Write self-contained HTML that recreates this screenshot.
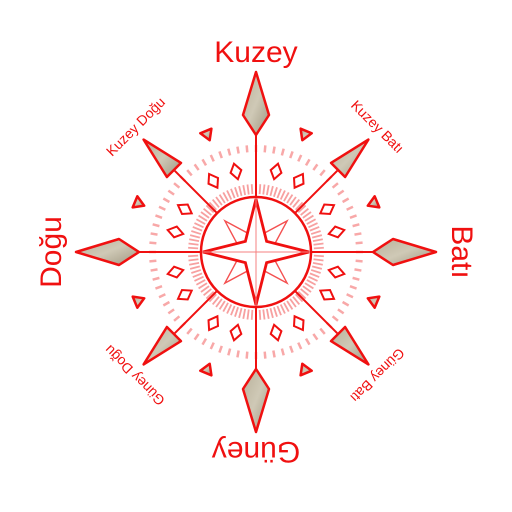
<!DOCTYPE html>
<html><head><meta charset="utf-8"><style>
html,body{margin:0;padding:0;background:#fff;width:512px;height:512px;overflow:hidden}
text{font-family:"Liberation Sans",sans-serif;fill:#f01010}
</style></head><body>
<svg id="c" width="512" height="512" viewBox="0 0 512 512">
<defs>
<linearGradient id="g" x1="0" y1="0" x2="1" y2="1"><stop offset="0" stop-color="#b8b09a"/><stop offset="0.5" stop-color="#cfc9b6"/><stop offset="1" stop-color="#9e9680"/></linearGradient>
</defs>
<g id="art"></g>
<text x="256" y="62" font-size="30" text-anchor="middle">Kuzey</text>
<text transform="translate(452,252) rotate(90)" font-size="30" text-anchor="middle">Batı</text>
<text transform="translate(61,252) rotate(-90)" font-size="30" text-anchor="middle">Doğu</text>
<text transform="translate(256,442) rotate(180)" font-size="30" text-anchor="middle">Güney</text>
<text transform="translate(139,130) rotate(-45)" font-size="14" text-anchor="middle">Kuzey Doğu</text>
<text transform="translate(374,130) rotate(45)" font-size="14" text-anchor="middle">Kuzey Batı</text>
<text transform="translate(374,372) rotate(135)" font-size="14" text-anchor="middle">Güney Batı</text>
<text transform="translate(138,372) rotate(-135)" font-size="14" text-anchor="middle">Güney Doğu</text>
</svg>
<script>
const cx=256, cy=252;
const cardinalAngles=[0,90,180,270];
const diagonalAngles=[45,135,225,315];
const triAngles=[22.5,67.5,112.5,157.5,202.5,247.5,292.5,337.5];
const diamondOffsets=[14,31];
const g=document.getElementById('art');
const NS='http://www.w3.org/2000/svg';
function P(r,a){const t=a*Math.PI/180;return [cx+r*Math.sin(t),cy-r*Math.cos(t)];}
function pt(r,a,w){const t=a*Math.PI/180;return [cx+r*Math.sin(t)+w*Math.cos(t),cy-r*Math.cos(t)+w*Math.sin(t)];}
function mk(tag,attrs,name){const e=document.createElementNS(NS,tag);for(const k in attrs)e.setAttribute(k,attrs[k]);
 
 
 g.appendChild(e);return e;}
function poly(pts){return pts.map(p=>p[0].toFixed(1)+','+p[1].toFixed(1)).join(' ');}
for(let i=0;i<72;i++){const a=i*5;const p1=P(100,a),p2=P(107,a);
 mk('line',{x1:p1[0],y1:p1[1],x2:p2[0],y2:p2[1],stroke:'#f8a8a8','stroke-width':2.5},'outer-tick');}
for(let i=0;i<100;i++){const a=i*3.6;const p1=P(58,a),p2=P(68,a);
 mk('line',{x1:p1[0],y1:p1[1],x2:p2[0],y2:p2[1],stroke:'#f7a0a0','stroke-width':1.8},'inner-tick');}
[...cardinalAngles,...diagonalAngles].forEach(a=>{const ri=cardinalAngles.includes(a)?118:115;const p1=P(56,a),p2=P(ri,a);
 mk('line',{x1:p1[0],y1:p1[1],x2:p2[0],y2:p2[1],stroke:'#f01010','stroke-width':2},'direction-line');});
cardinalAngles.forEach(a=>{mk('polygon',{points:poly([pt(180,a,0),pt(137,a,13),pt(117,a,0),pt(137,a,-13)]),fill:'url(#g)',stroke:'#f01010','stroke-width':2.5,'stroke-linejoin':'round'},'cardinal-arrow');});
diagonalAngles.forEach(a=>{mk('polygon',{points:poly([pt(159,a,0),pt(116,a,10),pt(116,a,-10)]),fill:'url(#g)',stroke:'#f01010','stroke-width':2.5,'stroke-linejoin':'round'},'diagonal-arrow');});
triAngles.forEach(a=>{mk('polygon',{points:poly([pt(121,a,0),pt(131,a,6),pt(131,a,-6)]),fill:'url(#g)',stroke:'#f01010','stroke-width':2.5,'stroke-linejoin':'round'},'small-triangle');});
for(let s=0;s<8;s++)diamondOffsets.forEach(o=>{const a=s*45+o;
 mk('polygon',{points:poly([pt(91,a,0),pt(83,a,5.5),pt(75,a,0),pt(83,a,-5.5)]),fill:'none',stroke:'#f01010','stroke-width':2},'diamond');});
mk('circle',{cx:cx,cy:cy,r:55,fill:'#fff',stroke:'#f01010','stroke-width':2.5},'inner-circle');
diagonalAngles.forEach(a=>{mk('polygon',{points:poly([pt(44,a,0),pt(14,a,9),pt(0,a,0),pt(14,a,-9)]),fill:'none',stroke:'#f45050','stroke-width':1.4},'minor-star-point');});
const star=[];cardinalAngles.forEach(a=>{star.push(pt(53,a,0));star.push(P(15,a+45));});
mk('polygon',{points:poly(star),fill:'#fff',stroke:'#f01010','stroke-width':2.8,'stroke-linejoin':'miter'},'main-star');
cardinalAngles.forEach(a=>{const p1=P(0,a),p2=P(53,a);mk('line',{x1:p1[0],y1:p1[1],x2:p2[0],y2:p2[1],stroke:'#f48080','stroke-width':1},'star-center-line');});
</script>
</body></html>
